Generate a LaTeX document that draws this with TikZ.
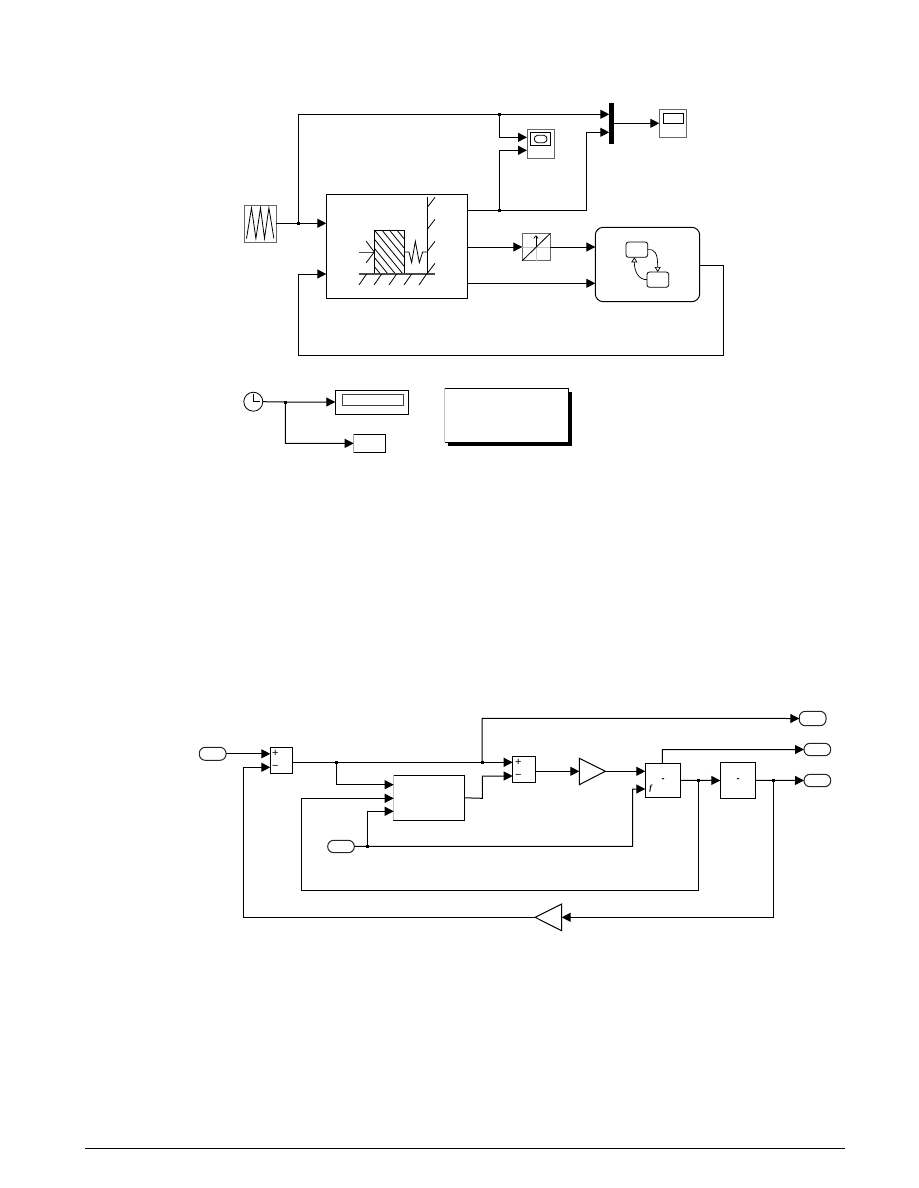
\documentclass[tikz,border=0pt]{standalone}
\usepackage{fontspec}
\setmainfont{Liberation Sans}
\newfontfamily\serifit{Liberation Serif}
\usetikzlibrary{arrows.meta,calc}
\tikzset{
  x=1pt,y=-1pt,
  sig/.style={line width=1pt,-{Triangle[length=9pt,width=9pt]},shorten >=0pt},
  wire/.style={line width=1pt},
  blockbox/.style={draw=black,line width=1pt,fill=white,inner sep=0pt,outer sep=0pt,anchor=center,font=\fontsize{8}{8}\selectfont},
  graybox/.style={blockbox,draw=black!60},
  portbox/.style={blockbox,draw=black!85,rounded corners=6pt},
  softbox/.style={blockbox,rounded corners=8pt},
  statebox/.style={blockbox,rounded corners=2.5pt,line width=0.8pt},
  thin line/.style={line width=0.8pt},
  openhead/.style={line width=0.7pt,-{Triangle[open,length=5pt,width=6pt]}},
  signtext/.style={inner sep=0pt,font=\fontsize{11}{11}\selectfont},
  dashtext/.style={inner sep=0pt,font=\fontsize{9}{9}\selectfont\bfseries},
  dot/.style={fill=black}
}
\newcommand{\blk}[6][blockbox]{%
  \pgfmathsetmacro{\bw}{#5-#3}\pgfmathsetmacro{\bh}{#6-#4}%
  \pgfmathsetmacro{\bx}{(#5+#3)/2}\pgfmathsetmacro{\by}{(#6+#4)/2}%
  \node[#1,minimum width=\bw pt,minimum height=\bh pt] (#2) at (\bx,\by) {};}
\newcommand{\jn}[3]{\coordinate (#1) at (#2,#3);}
\newcommand{\jndot}[1]{\fill[dot] ($(#1)+(-1.5,-1.5)$) rectangle ($(#1)+(1.5,1.5)$);}
\begin{document}
\begin{tikzpicture}
\useasboundingbox (0,0) rectangle (918,1188);
\fill[white] (0,0) rectangle (918,1188);

% ---------- upper model: blocks
\blk[graybox]{sg}{244}{205.3}{276}{242.3}
\blk{plant}{326.3}{194.3}{467.7}{298.7}
\blk[graybox]{scopeA}{527}{129.3}{554.7}{158.3}
\node[fill=black,minimum width=4.4pt,minimum height=40.7pt,inner sep=0pt,outer sep=0pt] (mux) at (611.5,123.3) {};
\blk[graybox]{scopeB}{659.3}{109.3}{686.7}{137.3}
\blk[graybox]{conv}{522.3}{233.3}{550.3}{260.7}
\blk[softbox]{chart}{595.3}{227.3}{699.7}{301.7}

% signal generator glyph
\draw[thin line] (sg.west) ++(2.5,14.7) -- ++(5,-30.6) -- ++(4.4,30.6) -- ++(4.6,-30.6) -- ++(4,30.6) -- ++(4.4,-30.6) -- ++(5,30.6);

% mass / spring glyph, in 3x coordinates
\begin{scope}[shift={(230,90)},x=0.3333pt,y=-0.3333pt]
  \begin{scope}
    \clip (433,420) rectangle (524,552);
    \foreach \s in {343,365.5,388,410.5,433,455.5,478,500.5}
      \draw[thin line] (\s,420) -- ++(115,140);
  \end{scope}
  \draw[thin line] (433,552) -- (433,420) -- (524,420) -- (524,552);
  \draw[draw=black!70,line width=1.1pt] (387,552) -- (615,552);
  \draw[thin line] (592,322) -- (592,552);
  \foreach \w in {352,418,484,550}
    \draw[thin line] (592,\w) -- ++(23,-30);
  \foreach \g in {387,432,477,522,567}
    \draw[thin line] (\g,585) -- ++(23,-33);
  \draw[thin line,draw=black!70] (387,486) -- (433,486);
  \draw[thin line] (408,453) -- (433,486) -- (408,519);
  \draw[thin line] (524,486) -- (537,486) -- (545,518) -- (556,454) -- (568,518) -- (578,486) -- (592,486);
\end{scope}

% scope glyphs
\begin{scope}[shift={(480,90)},x=0.3333pt,y=-0.3333pt]
  \draw[thin line] (151,128) rectangle (212,166);
  \draw[thin line] (172,136) .. controls (160,138) and (160,156) .. (172,158) -- (192,158) .. controls (204,156) and (204,138) .. (192,136) -- cycle;
  \draw[thin line] (551,71) rectangle (611,101);
  % converter glyph
  \draw[line width=0.5pt,draw=black!22] (127,471) -- (211,471);
  \draw[line width=0.5pt,draw=black!22] (168,470) -- (168,512);
  \draw[thin line] (127,512) -- (211,430);
  \draw[line width=0.7pt,-{Straight Barb[length=2.5pt,width=4.5pt]}] (168,470) -- (168,436);
\end{scope}

% chart glyph
\begin{scope}[shift={(480,90)}]
  \blk[statebox]{stA}{146}{152}{167.7}{167.3}
  \blk[statebox]{stB}{167}{182}{188.7}{197.3}
\end{scope}
\draw[openhead] (stA.east) .. controls (655,249) and (657.7,253) .. (657.7,272);
\draw[openhead] (stB.west) .. controls (639,280) and (634.3,272) .. (634.3,257.3);

% ---------- upper model: connectors
\jn{jA}{298.3}{223.3}
\jn{jB}{499.3}{114.3}
\jn{jC}{499.3}{210.3}
\draw[sig] (sg.east |- jA) -- (plant.west |- jA);
\draw[sig] (jA) -- (298.3,114.3) -- (jB) -- (mux.west |- jB);
\draw[sig] (jB) -- (499.3,137.3) -- (scopeA.west |- 0,137.3);
\draw[wire] (plant.east |- jC) -- (jC);
\draw[sig] (jC) -- (499.3,150.3) -- (scopeA.west |- 0,150.3);
\draw[sig] (jC) -- (586.3,210.3) -- (586.3,132.3) -- (mux.west |- 0,132.3);
\draw[sig] (mux.east |- scopeB.west) -- (scopeB.west);
\draw[sig] (plant.east |- conv.west) -- (conv.west);
\draw[sig] (conv.east) -- (chart.west |- conv.east);
\draw[sig] (plant.east |- 0,283.3) -- (chart.west |- 0,283.3);
\draw[sig] (chart.east |- 0,265) -- (723.7,265) -- (723.7,355) -- (298.3,355) -- (298.3,274) -- (plant.west |- 0,274);
\jndot{jA}\jndot{jB}\jndot{jC}

% ---------- clock row
\node[draw=black,line width=0.8pt,circle,minimum size=19pt,inner sep=0pt,outer sep=0pt,fill=white] (clock) at (253.3,401.7) {};
\draw[thin line] (253.3,394) -- (253.3,401.7) -- (260,401.7);
\blk{disp}{335.3}{390.3}{408.7}{414.3}
\draw[thin line,draw=black!75] (342.3,394.3) rectangle (403.7,405.3);
\blk{work}{353.7}{434}{385.7}{452.7}
\draw[line width=1pt,draw=black!35] (work.south west) -- (work.north west);
\jn{jD}{285.3}{402}
\draw[sig] (clock.east) -- (jD) -- (disp.west |- jD);
\draw[sig] (jD) -- (285.3,443.3) -- (work.west);
\jndot{jD}

% note block with shadow
\fill[black] (448,391.5) rectangle (572,446);
\node[fill=white,inner sep=0pt,outer sep=0pt,minimum width=124pt,minimum height=54.3pt] (note) at (506.7,415.15) {};
\draw[wire] (note.north west) -- (note.north east) -- (note.south east) -- (note.south west);
\draw[line width=0.8pt,draw=black!25] (note.north west) -- (note.south west);

% ---------- lower model: blocks
\blk[portbox]{inA}{199.3}{747.3}{226}{760.3}
\blk{sumA}{270.3}{747.3}{292.7}{773.3}
\blk{sumB}{512.7}{756}{535.7}{782.3}
\blk{ctrl}{393.7}{775.3}{464.7}{820.3}
\draw[line width=1pt,draw=black!25] (ctrl.south west) -- (ctrl.north west);
\blk[portbox]{inB}{327.7}{840.3}{354.3}{852.7}
\blk{intA}{645.3}{763.3}{680.7}{797.7}
\blk{intB}{720.3}{762.3}{755.7}{798.7}
\blk[portbox]{outA}{799.3}{711.3}{826}{725.7}
\blk[portbox]{outB}{804}{743.3}{830.7}{755.7}
\blk[portbox]{outC}{804}{774.3}{830.7}{786.7}
\coordinate (gainAtop) at (579.3,758.3);
\coordinate (gainAbot) at (579.3,784.7);
\coordinate (gainAtip) at (605.3,771.3);
\coordinate (gainAin) at (579.3,771.3);
\draw[wire] (gainAtop) -- (gainAtip) -- (gainAbot) -- cycle;
\coordinate (gainBtop) at (561.7,904);
\coordinate (gainBbot) at (561.7,930.7);
\coordinate (gainBtip) at (535,917.3);
\coordinate (gainBin) at (561.7,917.3);
\draw[wire] (gainBtop) -- (gainBtip) -- (gainBbot) -- cycle;

% signs
\node[signtext] (pA) at (275.3,753.3) {+};
\node[signtext] (mA) at (275.3,767.3) {−};
\node[signtext] (pB) at (518.3,762.3) {+};
\node[signtext] (mB) at (518.3,776) {−};
\node[dashtext] (dA) at (663,780) {-};
\node[dashtext] (dB) at (738,780) {-};
\node[inner sep=0pt,font=\fontsize{8}{8}\serifit\itshape\bfseries] (fA) at (650.7,789) {f};

% ---------- lower model: connectors
\jn{jE}{336.3}{762.3}
\jn{jF}{482}{762.3}
\jn{jG}{367.3}{846.3}
\jn{jH}{698.3}{780.3}
\jn{jI}{773.3}{780.3}
\draw[sig] (inA.east) -- (sumA.west |- inA.east);
\draw[sig] (sumA.east |- jE) -- (jE) -- (jF) -- (sumB.west |- jF);
\draw[sig] (jE) -- (336.3,784.7) -- (ctrl.west |- 0,784.7);
\draw[sig] (jF) -- (482,718.3) -- (outA.west);
\draw[sig] (ctrl.east) -- (482.3,798.3) -- (482.3,776) -- (sumB.west |- 0,776);
\draw[sig] (sumB.east |- gainAin) -- (gainAin);
\draw[sig] (gainAtip) -- (intA.west |- gainAtip);
\draw[sig] (inB.east) -- (jG) -- (632.7,846.3) -- (632.7,789) -- (intA.west |- 0,789);
\draw[sig] (jG) -- (367.3,811.3) -- (ctrl.west |- 0,811.3);
\draw[sig] (662.3,763.3) -- (662.3,749.7) -- (outB.west);
\draw[wire] (intA.east) -- (jH);
\draw[sig] (jH) -- (intB.west);
\draw[wire] (intB.east) -- (jI);
\draw[sig] (jI) -- (outC.west);
\draw[sig] (jH) -- (698.3,890.3) -- (301.3,890.3) -- (301.3,798.3) -- (ctrl.west |- 0,798.3);
\draw[sig] (jI) -- (773.3,917.3) -- (gainBin);
\draw[sig] (gainBtip) -- (243.3,917.3) -- (243.3,767.3) -- (sumA.west |- 0,767.3);
\jndot{jE}\jndot{jF}\jndot{jG}\jndot{jH}\jndot{jI}

% footer rule
\coordinate (ruleL) at (85,1148.5);
\coordinate (ruleR) at (845,1148.5);
\draw[line width=0.9pt] (ruleL) -- (ruleR);
\end{tikzpicture}
\end{document}
